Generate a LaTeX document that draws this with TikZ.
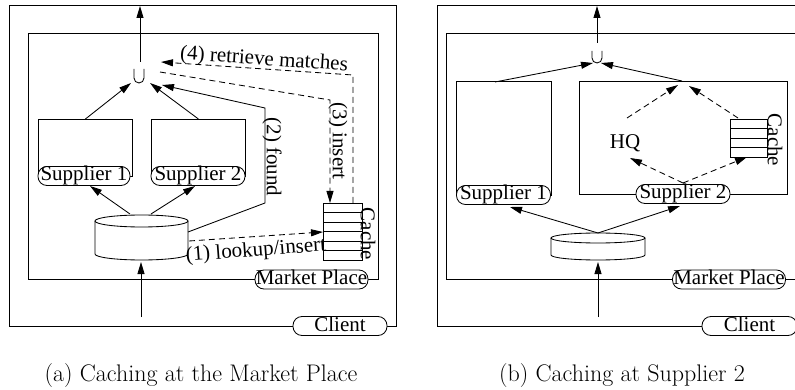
\documentclass[tikz,border=0pt]{standalone}
\usepackage{fontspec}
\setmainfont{Liberation Serif}
\newfontfamily\capfont{Latin Modern Roman}
\usetikzlibrary{arrows.meta}
\begin{document}
\begin{tikzpicture}[x=1pt,y=-1pt,line width=0.85pt,
  every node/.style={font=\fontsize{21}{22}\selectfont},
  arr/.style={-{Triangle[length=12pt,width=7pt]}},
  dsh/.style={dash pattern=on 6pt off 4pt},
  boxn/.style={draw,inner sep=0pt,anchor=north west},
  pill/.style={draw,fill=white,rounded corners=9pt,inner xsep=0pt,inner ysep=1pt,text height=13.5pt,text depth=3.5pt},
  capt/.style={font=\capfont\fontsize{24}{26}\selectfont,anchor=base}]
\clip (0,0) rectangle (795,390);
\fill[white] (0,0) rectangle (795,390);
% ---------------- panel (a) ----------------
\node[boxn,minimum width=387pt,minimum height=321pt] (clienta) at (9,5) {};
\node[boxn,minimum width=350pt,minimum height=246pt] (marketa) at (28,33) {};
\node[boxn,minimum width=94pt,minimum height=57pt] (s1a) at (38,119) {};
\node[boxn,minimum width=94pt,minimum height=57pt] (s2a) at (151,119) {};
\node[pill,minimum width=92pt] (p1a) at (84,176) {Supplier 1};
\node[pill,minimum width=94pt] (p2a) at (198,176) {Supplier 2};
\node[pill,minimum width=113pt] (mpa) at (311.5,279.5) {Market Place};
\node[pill,minimum width=94pt] (cla) at (340,326) {Client};
% union
\draw (134,69) -- (134,78) arc[start angle=180,end angle=0,radius=5] -- (144,69);
\coordinate (uatop) at (140,62);
\coordinate (uaout) at (140,6);
\coordinate (ual) at (131,83);
\coordinate (uar) at (150,83);
\draw[arr] (uatop) -- (uaout);
\draw[arr] (s1a.north) -- (ual);
\draw[arr] (s2a.north) -- (uar);
% database
\draw (95,221) -- (95,254) arc[start angle=180,end angle=0,x radius=46.5,y radius=6] -- (188,221);
\draw (141.5,221) ellipse[x radius=46.5,y radius=6];
\coordinate (dbal) at (130,214);
\coordinate (dbar) at (151,214);
\coordinate (p1atip) at (90,186);
\coordinate (p2atip) at (195,186);
\draw[arr] (dbal) -- (p1atip);
\draw[arr] (dbar) -- (p2atip);
\coordinate (ina) at (141,317);
\coordinate (dbabot) at (141,262);
\draw[arr] (ina) -- (dbabot);
% cache
\node[boxn,minimum width=39pt,minimum height=57pt] (cachea) at (323,203) {};
\foreach \k in {1,...,5} \draw (323,{203+9.5*\k}) -- (362,{203+9.5*\k});
\node[rotate=-90] (lcachea) at (368,234) {Cache};
% (2) found
\coordinate (fa1) at (188,232);
\coordinate (fa2) at (265,203);
\coordinate (fa3) at (265,108);
\coordinate (fa4) at (162,85);
\draw[arr] (fa1) -- (fa2) -- (fa3) -- (fa4);
% (3) insert
\coordinate (ia1) at (160,72);
\coordinate (ia2) at (330,100);
\coordinate (ia3) at (330,203);
\draw[arr,dsh] (ia1) -- (ia2) -- (ia3);
% (4) retrieve
\coordinate (ra1) at (353,203);
\coordinate (ra2) at (353,75);
\coordinate (ra3) at (161,62);
\draw[arr,dsh] (ra1) -- (ra2) -- (ra3);
% (1) lookup
\coordinate (la1) at (189,241);
\coordinate (la2) at (323,232);
\draw[arr,dsh] (la1) -- (la2);
\node[rotate=-90] (lfound) at (272,157) {(2) found};
\node[rotate=-90] (linsert) at (338,141) {(3) insert};
\node[rotate=-3.9] (lretr) at (264,60) {(4) retrieve matches};
\node[rotate=4.3] (llook) at (256,251) {(1) lookup/insert};
\node[capt] (capa) at (201,381) {(a) Caching at the Market Place};
% ---------------- panel (b) ----------------
\node[boxn,minimum width=378pt,minimum height=321pt] (clientb) at (437,5) {};
\node[boxn,minimum width=359pt,minimum height=246pt] (marketb) at (446,33) {};
\node[boxn,minimum width=95pt,minimum height=114pt] (s1b) at (456,81) {};
\node[boxn,minimum width=208pt,minimum height=113pt] (s2b) at (579,81) {};
\node[pill,minimum width=94pt] (p1b) at (503.5,195) {Supplier 1};
\node[pill,minimum width=94pt] (p2b) at (683,194) {Supplier 2};
\node[pill,minimum width=113pt] (mpb) at (729,279.5) {Market Place};
\node[pill,minimum width=95pt] (clb) at (749.5,326) {Client};
% union
\draw (592,51) -- (592,58) arc[start angle=180,end angle=0,radius=5] -- (602,51);
\coordinate (ubtop) at (597,43);
\coordinate (ubout) at (597,6);
\coordinate (ubl) at (593,63);
\coordinate (ubr) at (601,63);
\draw[arr] (ubtop) -- (ubout);
\coordinate (s1btop) at (495,82);
\coordinate (s2btop) at (682,81);
\draw[arr] (s1btop) -- (ubl);
\draw[arr] (s2btop) -- (ubr);
% HQ and cache inside supplier 2
\node (hq) at (625,143) {HQ};
\node[boxn,minimum width=37pt,minimum height=38pt] (cacheb) at (730,119) {};
\foreach \k in {1,...,3} \draw (730,{119+9.5*\k}) -- (767,{119+9.5*\k});
\node[rotate=-90] (lcacheb) at (775,140) {Cache};
\coordinate (hqtop) at (627,118);
\coordinate (cbtop) at (738,118);
\coordinate (s2in) at (683,183);
\coordinate (t1) at (678,85);
\coordinate (t2) at (689,86);
\coordinate (hqbot) at (630,158);
\coordinate (cbbot) at (747,157);
\draw[arr,dsh] (hqtop) -- (t1);
\draw[arr,dsh] (cbtop) -- (t2);
\draw[arr,dsh] (s2in) -- (hqbot);
\draw[arr,dsh] (s2in) -- (cbbot);
% database
\draw (551,238) -- (551,255) arc[start angle=180,end angle=0,x radius=47,y radius=5] -- (645,238);
\draw (598,238) ellipse[x radius=47,y radius=5];
\coordinate (dbbtop) at (598,233);
\coordinate (p1btip) at (510,207);
\coordinate (p2btip) at (680,206);
\draw[arr] (dbbtop) -- (p1btip);
\draw[arr] (dbbtop) -- (p2btip);
\coordinate (inb) at (598,317);
\coordinate (dbbbot) at (598,262);
\draw[arr] (inb) -- (dbbbot);
\node[capt] (capb) at (622,381) {(b) Caching at Supplier 2};
\end{tikzpicture}
\end{document}
